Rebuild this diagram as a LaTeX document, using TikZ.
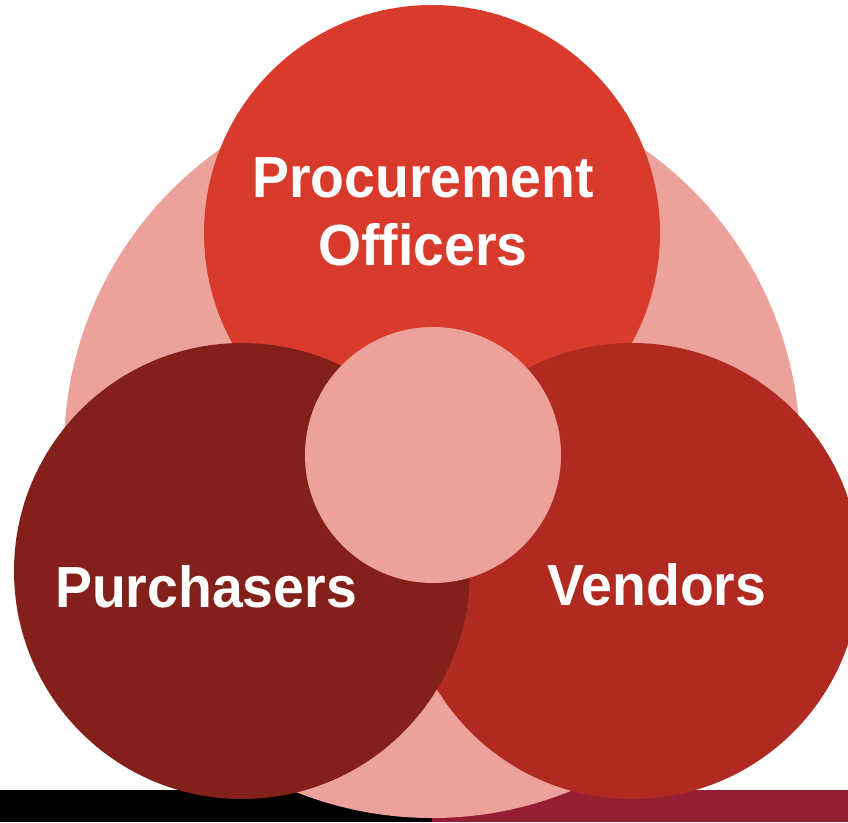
\documentclass[tikz,border=0pt]{standalone}
\usepackage{fontspec}
\setmainfont{Liberation Sans}
\newfontfamily\lblfont{Liberation Sans}[FakeStretch=0.955]
\definecolor{bigpink}{HTML}{ECA29B}
\definecolor{topred}{HTML}{D83A2C}
\definecolor{leftred}{HTML}{832019}
\definecolor{rightred}{HTML}{B02A21}
\definecolor{barred}{HTML}{961E33}
\tikzset{
  disc/.style={circle, inner sep=0pt, minimum size=#1, draw=none},
  label/.style={text=white, font=\lblfont\fontsize{58}{68}\selectfont\bfseries, inner sep=0pt, anchor=base, align=center}
}
\begin{document}
\begin{tikzpicture}[x=1pt,y=-1pt]
\useasboundingbox (0,0) rectangle (848,822);
\fill[black] (0,790) rectangle (432,822);
\fill[barred] (432,790) rectangle (848,822);
\node[disc=736pt, fill=bigpink] (big) at (432,450) {};
\node[disc=456pt, fill=topred] (top) at (432,233) {};
\node[disc=456pt, fill=rightred] (right) at (632,571) {};
\node[disc=456pt, fill=leftred] (left) at (242,571) {};
\node[disc=256pt, fill=bigpink] (mid) at (433,455) {};
\node[label] (tl) at (423,265) {Procurement\\Officers};
\node[label] (ll) at (206,607) {Purchasers};
\node[label] (rl) at (657,605) {Vendors};
\end{tikzpicture}
\end{document}
